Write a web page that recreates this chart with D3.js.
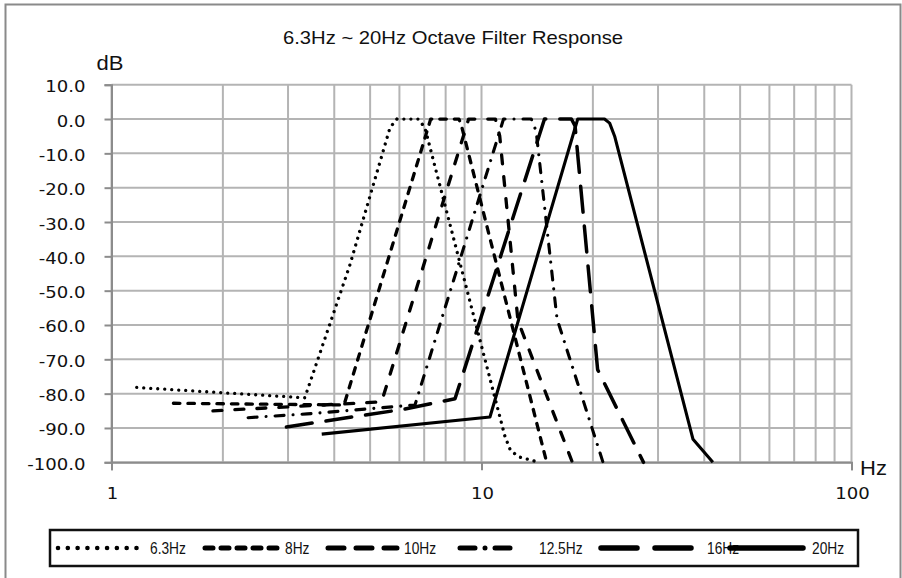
<!DOCTYPE html>
<html>
<head>
<meta charset="utf-8">
<script src="https://cdn.jsdelivr.net/npm/d3@7"></script>
<style>
  body { margin: 0; background: #fff; }
  svg { display: block; }
</style>
</head>
<body>
<svg id="chart" width="902" height="578"></svg>
<script>
// ---- data: octave-band filter responses (frequency in Hz, level in dB) ----
const seriesNames = ["6.3Hz", "8Hz", "10Hz", "12.5Hz", "16Hz", "20Hz"];

const freq63 = [1.17, 3.33, 4.40, 5.66, 5.91, 6.74, 7.03, 11.56, 11.99, 12.7, 14.3];
const db63   = [-78.2, -81.2, -42.8, -2.5, 0, 0, -2.5, -92.3, -96.7, -98.5, -100];

const freq8 = [1.47, 4.25, 7.29, 8.69, 8.84, 15.0];
const db8   = [-82.8, -83.3, 0, 0, -2.2, -100];

const freq10 = [1.88, 5.37, 9.23, 10.9, 11.2, 12.55, 17.6];
const db10   = [-85, -82.4, 0, 0, -4.9, -58.8, -100];

const freq125 = [2.34, 3.38, 6.61, 11.47, 13.63, 14.05, 16.0, 21.3];
const db125   = [-87, -85.9, -83.3, 0, 0, -3.5, -58.2, -100];

const freq16 = [2.97, 4.28, 6.21, 8.48, 14.8, 17.5, 17.9, 20.6, 27.4];
const db16   = [-89.7, -87.1, -84.5, -81.5, 0, 0, -2, -73, -100];

const freq20 = [3.70, 10.54, 18.2, 21.5, 22.2, 22.9, 37.3, 42.2];
const db20   = [-91.8, -86.8, 0, 0, -1.2, -5, -93.3, -100];

const yTicks = [10, 0, -10, -20, -30, -40, -50, -60, -70, -80, -90, -100];
const xTicks = [1, 10, 100];
const gridFreqs = [1, 2, 3, 4, 5, 6, 7, 8, 9, 10, 20, 30, 40, 50, 60, 70, 80, 90, 100];

const titleText = "6.3Hz ~ 20Hz Octave Filter Response";

// ---- line styles ----
const styles = [
  { width: 3.3, dash: "0.01 7" },
  { width: 3.3, dash: "6.5 8" },
  { width: 3.3, dash: "9 13" },
  { width: 3.1, dash: "9 9 0.01 9" },
  { width: 3.5, dash: "26 14" },
  { width: 3.1, dash: null }
];

const series = [
  [freq63, db63], [freq8, db8], [freq10, db10],
  [freq125, db125], [freq16, db16], [freq20, db20]
].map(([f, d], i) => ({
  name: seriesNames[i],
  points: f.map((v, j) => ({ f: v, db: d[j] })),
  style: styles[i]
}));

// ---- layout ----
const svg = d3.select("#chart");
const x = d3.scaleLog().domain([1, 100]).range([111.5, 851.5]);
const y = d3.scaleLinear().domain([-100, 10]).range([462.3, 84.7]);

// chart frame
svg.append("rect")
  .attr("x", 5.5).attr("y", 4.5).attr("width", 895).attr("height", 600)
  .attr("fill", "#fff").attr("stroke", "#8a8a8a").attr("stroke-width", 2);

// gridlines
const grid = svg.append("g").attr("stroke", "#b4b4b4").attr("stroke-width", 2);
grid.selectAll("line.v").data(gridFreqs).join("line")
  .attr("class", "v")
  .attr("x1", d => x(d)).attr("x2", d => x(d))
  .attr("y1", y(10)).attr("y2", y(-100));
grid.selectAll("line.h").data(yTicks).join("line")
  .attr("class", "h")
  .attr("x1", x(1)).attr("x2", x(100))
  .attr("y1", d => y(d)).attr("y2", d => y(d));

// axes
const yAxis = svg.append("g")
  .attr("transform", `translate(${x(1)},0)`)
  .call(d3.axisLeft(y).tickValues(yTicks).tickSize(7).tickFormat(""));
const xAxis = svg.append("g")
  .attr("transform", `translate(0,${y(-100)})`)
  .call(d3.axisBottom(x).tickValues(xTicks).tickSize(8).tickFormat(""));
[yAxis, xAxis].forEach(g => {
  g.select(".domain").attr("stroke", "#8c8c8c").attr("stroke-width", 2);
  g.selectAll(".tick line").attr("stroke", "#8c8c8c").attr("stroke-width", 2);
});

// horizontally scaled text helper
function scaledText(parent, tx, ty, str, opts) {
  return parent.append("text")
    .attr("transform", `translate(${tx},${ty}) scale(${opts.sx || 1},1)`)
    .attr("text-anchor", opts.anchor || "start")
    .attr("font-family", opts.family || "'Liberation Sans', Arial, sans-serif")
    .attr("font-size", opts.size)
    .attr("fill", opts.fill || "#111")
    .text(str);
}

// tick labels
const labels = svg.append("g");
yTicks.forEach(v => scaledText(labels, 85.5, y(v) + 7.5, v.toFixed(1),
  { anchor: "end", size: 16, sx: 1.13, family: "'DejaVu Sans', Verdana, sans-serif" }));
xTicks.forEach(v => scaledText(labels, x(v) + 1, 499, String(v),
  { anchor: "middle", size: 16, sx: 1.13, family: "'DejaVu Sans', Verdana, sans-serif" }));

// title and axis names
svg.append("text")
  .attr("x", 283).attr("y", 44)
  .attr("font-family", "'Liberation Sans', Arial, sans-serif")
  .attr("font-size", 18.5)
  .attr("textLength", 340).attr("lengthAdjust", "spacingAndGlyphs")
  .attr("fill", "#111")
  .text(titleText);
scaledText(svg, 96.5, 70, "dB", { size: 20, sx: 1.1 });
scaledText(svg, 860, 475, "Hz", { size: 20, sx: 1.1 });

// response curves
const line = d3.line().x(d => x(d.f)).y(d => y(d.db));
svg.append("g").selectAll("path").data(series).join("path")
  .attr("d", d => line(d.points))
  .attr("fill", "none")
  .attr("stroke", "#000")
  .attr("stroke-width", d => d.style.width)
  .attr("stroke-linecap", d => d.style.dash ? "round" : "butt")
  .attr("stroke-linejoin", "round")
  .attr("stroke-dasharray", d => d.style.dash);

// legend
const legend = svg.append("g");
legend.append("rect")
  .attr("x", 50).attr("y", 530).attr("width", 808).attr("height", 36)
  .attr("fill", "#fff").attr("stroke", "#111").attr("stroke-width", 2.5);

const legendSamples = [
  { x0: 58, x1: 137, tx: 150, width: 4.6, dash: "0.01 9.8" },
  { x0: 205, x1: 279, tx: 285, width: 5, dash: "8 8" },
  { x0: 328, x1: 397, tx: 404, width: 5, dash: "16 12" },
  { x0: 460, x1: 518, tx: 539, width: 5, dash: "15 10 0.01 10" },
  { x0: 601, x1: 692, tx: 707, width: 5.5, dash: "36 18" },
  { x0: 730, x1: 803, tx: 812, width: 5.5, dash: null }
];
const ly = 548;
legendSamples.forEach((s, i) => {
  legend.append("line")
    .attr("x1", s.x0).attr("x2", s.x1).attr("y1", ly).attr("y2", ly)
    .attr("stroke", "#000").attr("stroke-width", s.width)
    .attr("stroke-linecap", "round")
    .attr("stroke-dasharray", s.dash);
  scaledText(legend, s.tx, ly + 6, seriesNames[i], { size: 16, sx: 0.86 });
});
</script>
</body>
</html>
